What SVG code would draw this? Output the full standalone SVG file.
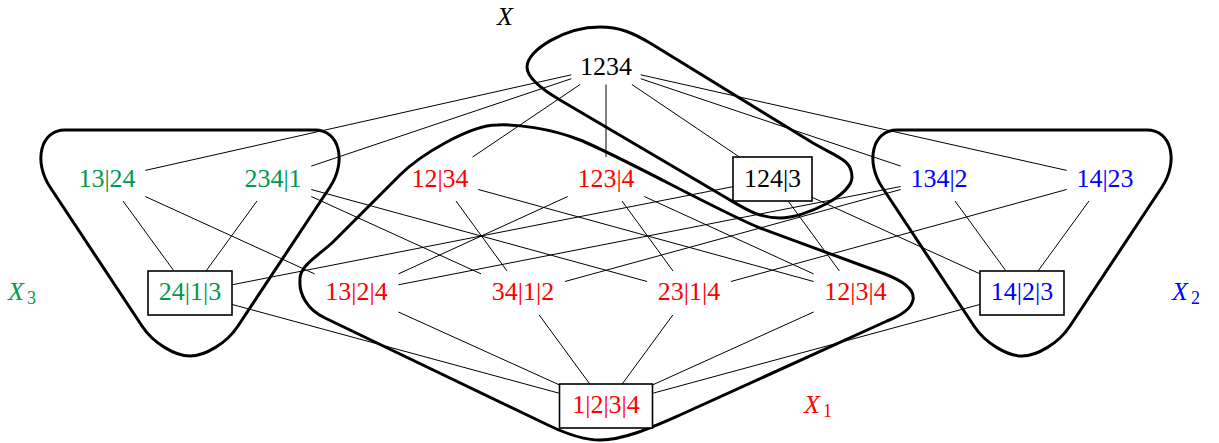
<svg xmlns="http://www.w3.org/2000/svg" width="1219" height="443" viewBox="0 0 1219 443">
<style>
.e{stroke:#000;stroke-width:1;fill:none}
.hull{fill:none;stroke:#000;stroke-width:3;stroke-linejoin:round}
.box{fill:#fff;stroke:#000;stroke-width:1.6}
text{font-family:"Liberation Serif","Times New Roman",serif;font-size:26px;text-anchor:middle}
.k{fill:#000}.r{fill:#ff0000}.g{fill:#00994d}.b{fill:#0000ff}
.lab{font-style:italic;text-anchor:start}
.sub{font-style:normal;font-size:18px}
</style>
<g id="connectors">
<line class="e" x1="571.3" y1="74.8" x2="145.3" y2="170.4"/>
<line class="e" x1="571.3" y1="78.7" x2="311.3" y2="166.1"/>
<line class="e" x1="580.1" y1="84.5" x2="472.6" y2="157"/>
<line class="e" x1="606" y1="84.5" x2="606" y2="157"/>
<line class="e" x1="631.9" y1="84.5" x2="739.4" y2="157"/>
<line class="e" x1="640.7" y1="78.7" x2="900.7" y2="166.1"/>
<line class="e" x1="640.7" y1="74.8" x2="1066.7" y2="170.4"/>
<line class="e" x1="733.7" y1="186.5" x2="231.9" y2="284.8"/>
<line class="e" x1="257" y1="201" x2="206" y2="271"/>
<line class="e" x1="123" y1="201" x2="174" y2="271"/>
<line class="e" x1="567.7" y1="196.5" x2="398.4" y2="273.9"/>
<line class="e" x1="900.7" y1="186.5" x2="398.4" y2="284.8"/>
<line class="e" x1="145.3" y1="196.5" x2="314.6" y2="273.9"/>
<line class="e" x1="900.7" y1="189.5" x2="564.9" y2="281.5"/>
<line class="e" x1="311.3" y1="196.5" x2="481.1" y2="273.9"/>
<line class="e" x1="456" y1="201" x2="507" y2="271"/>
<line class="e" x1="622" y1="201" x2="673" y2="271"/>
<line class="e" x1="311.3" y1="189.5" x2="647.1" y2="281.5"/>
<line class="e" x1="1066.7" y1="189.5" x2="730.9" y2="281.5"/>
<line class="e" x1="644.3" y1="196.5" x2="813.6" y2="273.9"/>
<line class="e" x1="788.1" y1="201" x2="839.4" y2="271"/>
<line class="e" x1="478.3" y1="189.5" x2="813.6" y2="281.5"/>
<line class="e" x1="810.3" y1="196.5" x2="980.1" y2="273.9"/>
<line class="e" x1="955" y1="201" x2="1006" y2="271"/>
<line class="e" x1="1089" y1="201" x2="1038" y2="271"/>
<line class="e" x1="231.9" y1="304.4" x2="560.5" y2="393.6"/>
<line class="e" x1="398.4" y1="312" x2="560.5" y2="385.4"/>
<line class="e" x1="539.2" y1="315" x2="589.8" y2="384"/>
<line class="e" x1="672.8" y1="315" x2="622.2" y2="384"/>
<line class="e" x1="813.6" y1="312" x2="651.5" y2="385.4"/>
<line class="e" x1="980.1" y1="304.4" x2="651.5" y2="393.6"/>
</g>
<g id="hulls">
<path id="hullX" class="hull" d="M 560 100 C 543 90 527 78 527 67 C 527 50 565 27 600 27 C 620 27 633 33 650 43 L 813 143 C 839 158 852 160 852 177 C 852 195 805 218 780 218 C 760 218 747 210 730 200 Z"/>
<path id="hullX1" class="hull" d="M 300 280 C 299 266 318 256 333 242 L 400 175 C 420 155 470 125 497 125 C 515 124 550 128 580 140 C 620 156 720 212 760 228 L 885 274 C 903 281 915 290 913 300 C 911 310 900 316 887 321 L 680 415 C 655 426 625 440 600 440 C 585 440 568 434.5 550 426 L 325 318 C 306 309 299 293 300 280 Z"/>
<path id="hullX3" class="hull" d="M 65 130 H 315 C 340 130 346.6 162 330 187 L 238 326 C 227 343 205 356 190 356 C 175 356 153 343 142 326 L 50 187 C 33.4 162 40 130 65 130 Z"/>
<path id="hullX2" class="hull" transform="translate(832 0)" d="M 65 130 H 315 C 340 130 346.6 162 330 187 L 238 326 C 227 343 205 356 190 356 C 175 356 153 343 142 326 L 50 187 C 33.4 162 40 130 65 130 Z"/>
</g>
<g id="n1234"><text class="k" x="606" y="75">1234</text></g>
<g id="n13_24"><text class="g" x="107" y="187">13|24</text></g>
<g id="n234_1"><text class="g" x="273" y="187">234|1</text></g>
<g id="n12_34"><text class="r" x="440" y="187">12|34</text></g>
<g id="n123_4"><text class="r" x="606" y="187">123|4</text></g>
<g id="n124_3"><rect class="box" x="733" y="157" width="79" height="44"/><text class="k" x="772.5" y="187">124|3</text></g>
<g id="n134_2"><text class="b" x="939" y="187">134|2</text></g>
<g id="n14_23"><text class="b" x="1105" y="187">14|23</text></g>
<g id="n24_1_3"><rect class="box" x="148" y="271" width="84" height="44"/><text class="g" x="190" y="300">24|1|3</text></g>
<g id="n13_2_4"><text class="r" x="356.5" y="300">13|2|4</text></g>
<g id="n34_1_2"><text class="r" x="523" y="300">34|1|2</text></g>
<g id="n23_1_4"><text class="r" x="689" y="300">23|1|4</text></g>
<g id="n12_3_4"><text class="r" x="855.5" y="300">12|3|4</text></g>
<g id="n14_2_3"><rect class="box" x="980" y="271" width="84" height="44"/><text class="b" x="1022" y="300">14|2|3</text></g>
<g id="n1_2_3_4"><rect class="box" x="559.5" y="384" width="93" height="44"/><text class="r" x="606" y="413">1|2|3|4</text></g>
<g id="labels">
<text class="k lab" x="497" y="25">X</text>
<text class="r lab" x="804" y="413">X<tspan class="sub" dx="3" dy="4">1</tspan></text>
<text class="b lab" x="1172" y="300">X<tspan class="sub" dx="3" dy="4">2</tspan></text>
<text class="g lab" x="8" y="300">X<tspan class="sub" dx="3" dy="4">3</tspan></text>
</g>
</svg>
